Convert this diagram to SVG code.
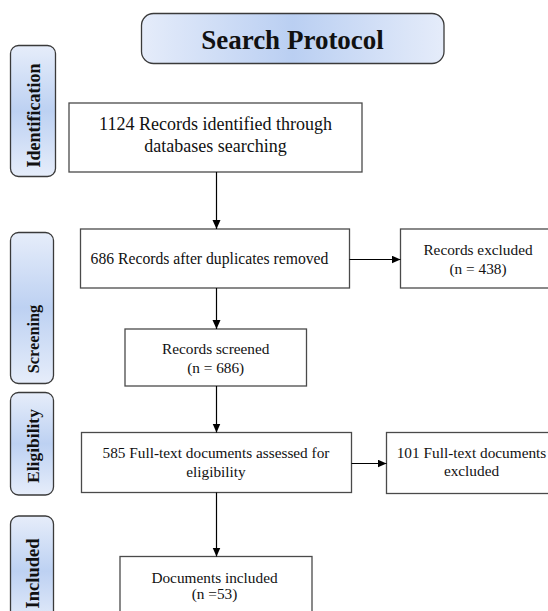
<svg xmlns="http://www.w3.org/2000/svg" width="548" height="611" viewBox="0 0 548 611">
<defs>
<linearGradient id="gH" x1="0" y1="0" x2="1" y2="0">
<stop offset="0" stop-color="#e5ecfa"/>
<stop offset="0.5" stop-color="#bacff2"/>
<stop offset="1" stop-color="#e5ecfa"/>
</linearGradient>
<linearGradient id="gV" x1="0" y1="0" x2="0" y2="1">
<stop offset="0" stop-color="#e6edfa"/>
<stop offset="0.5" stop-color="#bdd1f2"/>
<stop offset="1" stop-color="#e6edfa"/>
</linearGradient>
<marker id="arr" markerUnits="userSpaceOnUse" markerWidth="10" markerHeight="9" refX="9" refY="4" orient="auto">
<path d="M0,0 L9,4 L0,8 z" fill="#000"/>
</marker>
</defs>
<style>
.box{fill:#fff;stroke:#4a4a4a;stroke-width:1.3}
.side{fill:url(#gV);stroke:#3a3a3a;stroke-width:1.3}
.t{font-family:"Liberation Serif","Times New Roman",serif;font-size:15.3px;fill:#111;text-anchor:middle}
.big{font-size:18px}
.mid{font-size:15.7px}
.sl{font-family:"Liberation Serif","Times New Roman",serif;font-weight:bold;fill:#111;text-anchor:middle}
.conn line{stroke:#000;stroke-width:1.2;marker-end:url(#arr)}
</style>
<rect width="548" height="611" fill="#fff"/>

<g id="title">
<rect x="141.5" y="13.5" width="302.5" height="50" rx="12" fill="url(#gH)" stroke="#3a3a3a" stroke-width="1.3"/>
<text x="292.5" y="48.5" class="sl" style="font-size:27px">Search Protocol</text>
</g>

<g id="stage-identification">
<rect class="side" x="10.5" y="45.5" width="45" height="131" rx="8"/>
<text class="sl" style="font-size:18px" transform="translate(39.5,115.5) rotate(-90)">Identification</text>
</g>
<g id="stage-screening">
<rect class="side" x="10.5" y="232.5" width="43" height="151" rx="8"/>
<text class="sl" style="font-size:16.3px" transform="translate(38.5,339) rotate(-90)">Screening</text>
</g>
<g id="stage-eligibility">
<rect class="side" x="10.5" y="392.5" width="43" height="102.5" rx="8"/>
<text class="sl" style="font-size:17.5px" transform="translate(38.5,446) rotate(-90)">Eligibility</text>
</g>
<g id="stage-included">
<rect class="side" x="10.5" y="516" width="43" height="110" rx="8"/>
<text class="sl" style="font-size:18.5px" transform="translate(39,573.5) rotate(-90)">Included</text>
</g>

<g id="n1">
<rect class="box" x="69" y="103" width="293" height="69"/>
<text class="t big" x="215.5" y="130">1124 Records identified through</text>
<text class="t big" x="215.5" y="151.5">databases searching</text>
</g>
<g id="n2">
<rect class="box" x="80.5" y="229" width="269" height="59"/>
<text class="t mid" x="209.5" y="263.5">686 Records after duplicates removed</text>
</g>
<g id="n3">
<rect class="box" x="400.5" y="229" width="160" height="59"/>
<text class="t" x="478" y="255">Records excluded</text>
<text class="t" x="478" y="274">(n = 438)</text>
</g>
<g id="n4">
<rect class="box" x="125" y="329" width="181.5" height="57"/>
<text class="t" x="215.7" y="354.3">Records screened</text>
<text class="t" x="215.7" y="373">(n = 686)</text>
</g>
<g id="n5">
<rect class="box" x="81.5" y="432.5" width="270" height="60"/>
<text class="t" x="216" y="458.3">585 Full-text documents assessed for</text>
<text class="t" x="216" y="477.3">eligibility</text>
</g>
<g id="n6">
<rect class="box" x="386.5" y="432.5" width="170" height="61"/>
<text class="t" x="471.5" y="457.5">101 Full-text documents</text>
<text class="t" x="471.5" y="476">excluded</text>
</g>
<g id="n7">
<rect class="box" x="120" y="556.5" width="192" height="70"/>
<text class="t" x="214.5" y="582.7">Documents included</text>
<text class="t" x="214.5" y="599">(n =53)</text>
</g>

<g id="connectors" class="conn">
<line x1="216.5" y1="172" x2="216.5" y2="229"/>
<line x1="349.5" y1="259.5" x2="400.5" y2="259.5"/>
<line x1="216.5" y1="288" x2="216.5" y2="329"/>
<line x1="216.5" y1="386" x2="216.5" y2="432.5"/>
<line x1="351.5" y1="463.5" x2="386.5" y2="463.5"/>
<line x1="216.5" y1="492.5" x2="216.5" y2="556.5"/>
</g>
</svg>
